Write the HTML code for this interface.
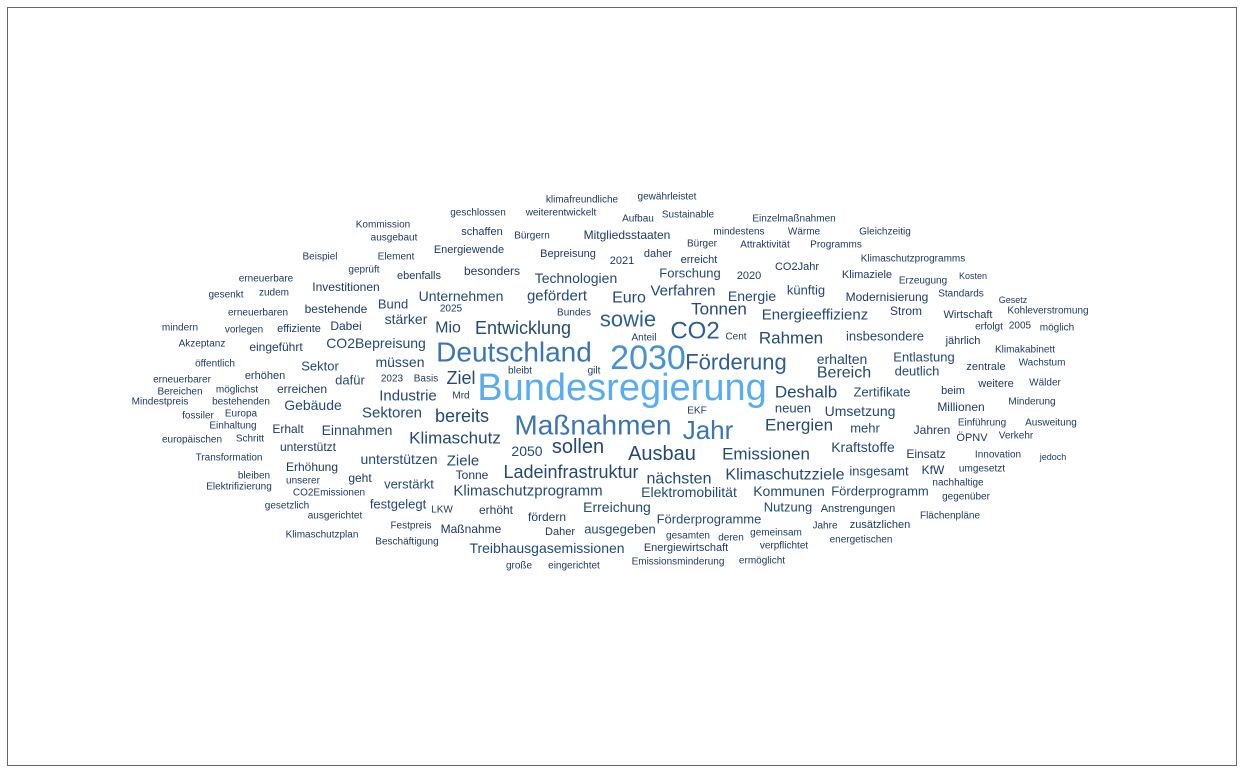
<!DOCTYPE html>
<html><head><meta charset="utf-8">
<style>
html,body{margin:0;padding:0;background:#fff;}
svg{display:block;}
text{font-family:"Liberation Sans",Arial,sans-serif;}
</style></head>
<body>
<svg id="cloud" width="1244" height="773">
<rect x="7.5" y="7.5" width="1229" height="758" fill="#fff" stroke="#666" stroke-width="1"/>
</svg>
<script>
const words = ["klimafreundliche","gewährleistet","Kommission","geschlossen","weiterentwickelt","Aufbau","Sustainable","Einzelmaßnahmen","ausgebaut","schaffen","Bürgern","Mitgliedsstaaten","mindestens","Wärme","Gleichzeitig","Bürger","Attraktivität","Programms","Energiewende","Bepreisung","daher","Beispiel","Element","Klimaschutzprogramms","2021","erreicht","CO2Jahr","geprüft","besonders","erneuerbare","ebenfalls","Technologien","Forschung","2020","Klimaziele","Erzeugung","Kosten","Investitionen","künftig","gesenkt","zudem","2025","Unternehmen","gefördert","Euro","Verfahren","Energie","Modernisierung","Standards","Gesetz","bestehende","Bund","Bundes","Tonnen","Strom","Wirtschaft","Kohleverstromung","erneuerbaren","stärker","sowie","Energieeffizienz","erfolgt","2005","möglich","mindern","vorlegen","effiziente","Dabei","Mio","Entwicklung","CO2","Cent","Rahmen","insbesondere","Anteil","jährlich","Akzeptanz","eingeführt","CO2Bepreisung","Deutschland","Klimakabinett","Wachstum","2030","Förderung","erhalten","Entlastung","öffentlich","Sektor","müssen","deutlich","zentrale","Bereich","Ziel","bleibt","gilt","erhöhen","2023","Basis","erneuerbarer","dafür","Bundesregierung","Deshalb","Zertifikate","beim","weitere","Wälder","Bereichen","möglichst","erreichen","Industrie","Mrd","Mindestpreis","bestehenden","fossiler","Gebäude","neuen","Millionen","Minderung","Europa","Sektoren","bereits","EKF","Umsetzung","Einhaltung","Maßnahmen","Energien","Erhalt","Einnahmen","Jahr","mehr","Jahren","Einführung","Ausweitung","europäischen","Schritt","Klimaschutz","ÖPNV","Verkehr","unterstützt","Kraftstoffe","2050","sollen","Ausbau","Emissionen","Einsatz","Innovation","jedoch","Transformation","unterstützen","Ziele","KfW","umgesetzt","Erhöhung","Ladeinfrastruktur","nächsten","Klimaschutzziele","insgesamt","bleiben","geht","unserer","verstärkt","Tonne","nachhaltige","Elektrifizierung","CO2Emissionen","Klimaschutzprogramm","Elektromobilität","Kommunen","Förderprogramm","gegenüber","gesetzlich","festgelegt","erhöht","Erreichung","Nutzung","Anstrengungen","ausgerichtet","LKW","fördern","Förderprogramme","Flächenpläne","Festpreis","Maßnahme","Daher","ausgegeben","Jahre","zusätzlichen","Klimaschutzplan","Beschäftigung","gesamten","deren","gemeinsam","energetischen","Treibhausgasemissionen","Energiewirtschaft","verpflichtet","große","eingerichtet","Emissionsminderung","ermöglicht"];
const weights = [10,10,10,10,10,10,10,10,10,11,10,12,10,10,10,10,10,10,11,11,11,10,10,10,11,11,11,10,12,10,11,14,13,11,11,10,9,12,13,10,10,10,14,15,16,15,14,12,10,9,12,13,10,17,12,11,10,10,14,22,15,10,10,10,10,10,11,12,16,18,24,10,17,13,10,11,10,12,14,28,10,10,34,22,14,13,10,13,14,13,11,16,18,10,10,11,10,10,10,13,38,17,13,11,11,10,10,10,12,15,10,10,10,10,14,13,12,10,10,15,18,10,14,10,28,17,12,14,26,13,12,10,10,10,10,17,11,10,12,14,14,20,20,17,12,10,9,10,14,15,12,10,12,18,16,16,13,10,12,10,13,12,10,10,10,15,14,14,13,10,10,13,12,14,13,11,10,10,12,13,10,10,12,11,13,10,11,10,10,10,10,10,10,14,11,10,10,10,10,10];
const layoutX = [582,667,383,478,561,638,688,794,394,482,532,627,739,804,885,702,765,836,469,568,658,320,396,913,622,699,797,364,492,266,419,576,690,749,867,923,973,346,806,226,274,451,461,557,629,683,752,887,961,1013,336,393,574,719,906,968,1048,258,406,628,815,989,1020,1057,180,244,299,346,448,523,695,736,791,885,644,963,202,276,376,514,1025,1042,648,736,842,924,215,320,400,917,986,844,461,520,594,265,392,426,182,350,622,806,882,953,996,1045,180,237,302,408,461,160,241,198,313,793,961,1032,241,392,462,697,860,233,593,799,288,357,708,865,932,982,1051,192,250,455,972,1016,308,863,527,578,662,766,926,998,1053,229,399,463,933,982,312,571,679,785,879,254,360,303,409,472,958,239,329,528,689,789,880,966,287,398,496,617,788,858,335,442,547,709,950,411,471,560,620,825,880,322,407,688,731,776,861,547,686,784,519,574,678,762];
const layoutY = [200,197,225,213,213,219,215,219,238,232,236,235,232,232,232,244,245,245,250,254,254,257,257,259,261,260,267,270,271,279,276,278,273,276,275,281,276,287,290,295,293,309,296,296,298,291,296,297,294,300,309,304,313,309,311,315,311,313,319,319,315,327,326,328,328,330,329,326,328,328,331,337,338,336,338,341,344,347,343,352,350,363,358,362,359,357,364,366,362,371,367,373,378,371,371,376,379,379,380,380,388,392,392,391,384,383,392,390,389,396,396,402,402,416,405,408,407,402,414,413,416,411,411,426,425,425,429,430,430,428,430,423,423,440,439,438,438,436,447,447,451,447,454,454,454,455,457,458,459,461,470,469,467,472,479,475,471,476,478,481,484,475,483,487,493,491,492,491,491,497,506,504,510,507,507,509,516,510,517,519,516,526,529,532,529,526,525,535,542,536,538,533,540,548,548,546,566,566,562,561];

const svg = document.getElementById('cloud');
function colorFor(w){
  if (w >= 36) return '#57acf2';
  if (w >= 30) return '#4891d3';
  if (w >= 26) return '#3a76b2';
  if (w >= 22) return '#2e5f92';
  if (w >= 13) return '#234a74';
  return '#1e3b62';
}
for (let i = 0; i < words.length; i++) {
  const t = document.createElementNS('http://www.w3.org/2000/svg','text');
  t.setAttribute('x', layoutX[i]);
  t.setAttribute('y', layoutY[i]);
  t.setAttribute('font-size', weights[i]);
  t.setAttribute('text-anchor', 'middle');
  t.setAttribute('dominant-baseline', 'central');
  t.setAttribute('fill', colorFor(weights[i]));
  t.textContent = words[i];
  
  
  svg.appendChild(t);
}
</script>
</body></html>
